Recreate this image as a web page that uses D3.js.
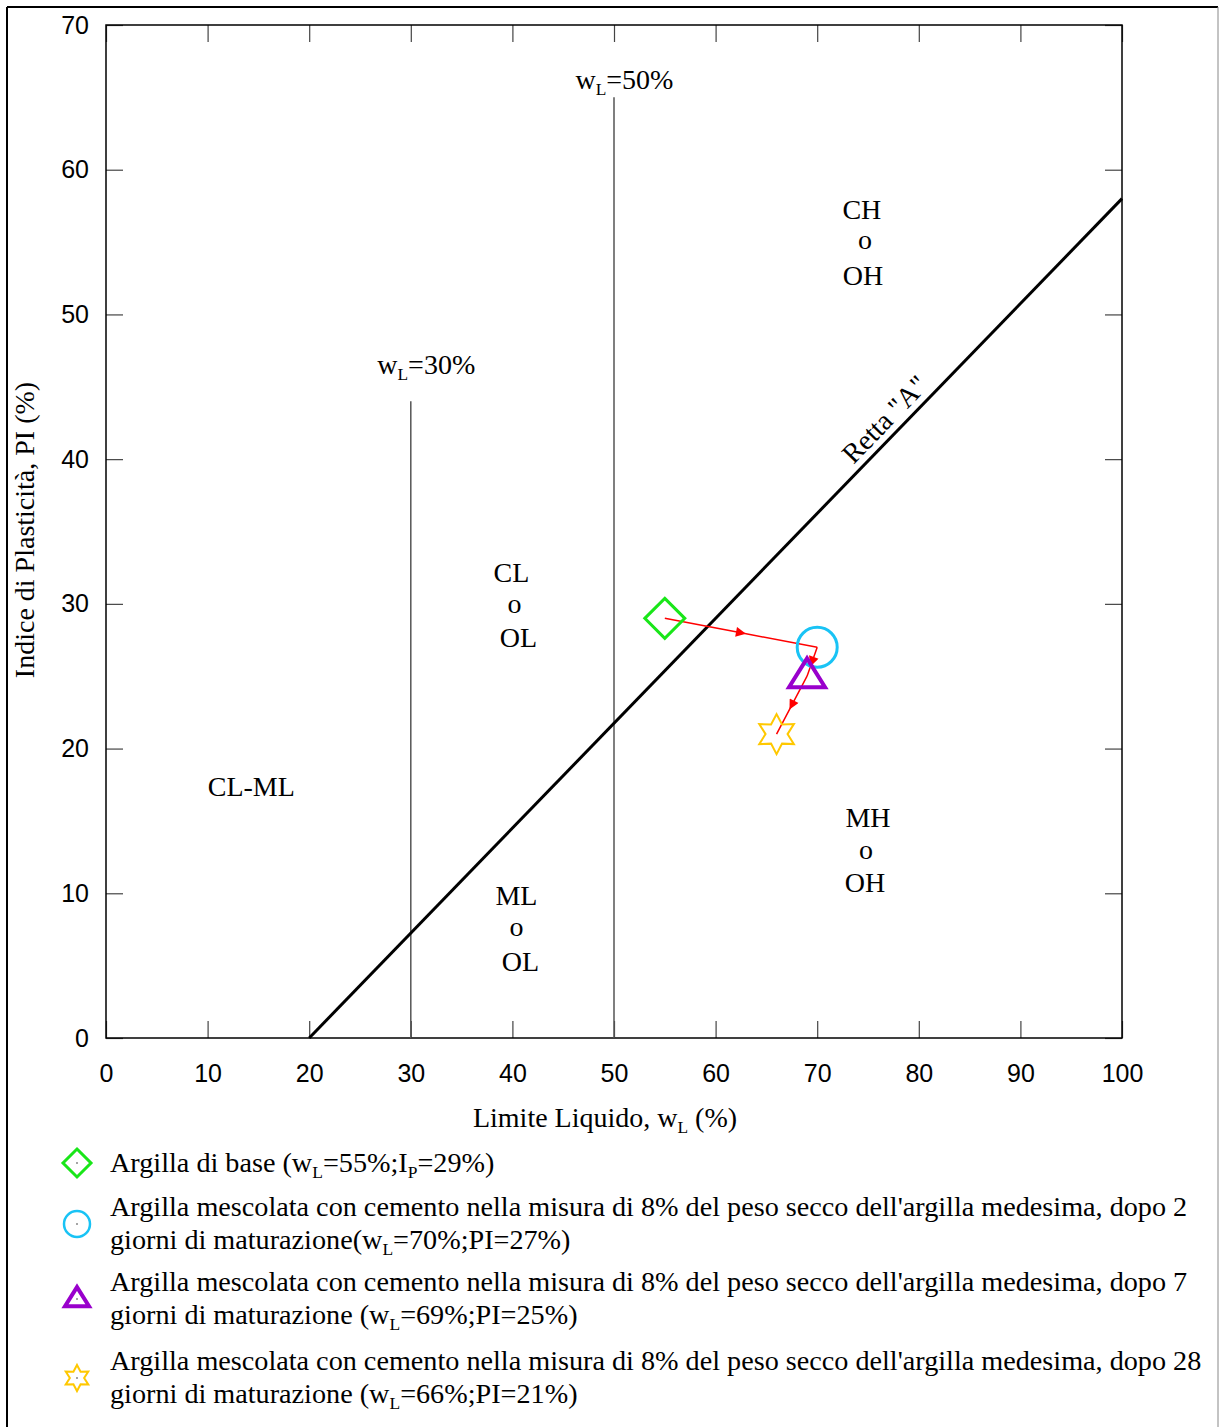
<!DOCTYPE html>
<html>
<head>
<meta charset="utf-8">
<script src="https://cdn.jsdelivr.net/npm/d3@7"></script>
<style>
  body { margin: 0; background: #fff; }
  .serif { font-family: "Liberation Serif", "Times New Roman", serif; fill: #000; }
  .tick text { font-family: "Liberation Sans", Arial, sans-serif; font-size: 25px; fill: #000; }
</style>
</head>
<body>
<div id="chart"></div>
<script>
// Casagrande plasticity chart data
const sampleNames = ["base", "2 giorni", "7 giorni", "28 giorni"];
const liquidLimit = [55, 70, 69, 66];
const plasticityIdx = [29, 27, 25, 21];
const markerColors = ["#19e619", "#19c3f5", "#9900cc", "#ffc800"];
const markerShapes = ["diamond", "circle", "triangle", "star"];
const legendLines = [
  ["Argilla di base (w_L=55%;I_P=29%)"],
  ["Argilla mescolata con cemento nella misura di 8% del peso secco dell'argilla medesima, dopo 2", "giorni di maturazione(w_L=70%;PI=27%)"],
  ["Argilla mescolata con cemento nella misura di 8% del peso secco dell'argilla medesima, dopo 7", "giorni di maturazione (w_L=69%;PI=25%)"],
  ["Argilla mescolata con cemento nella misura di 8% del peso secco dell'argilla medesima, dopo 28", "giorni di maturazione (w_L=66%;PI=21%)"]
];
const xTicks = [0, 10, 20, 30, 40, 50, 60, 70, 80, 90, 100];
const yTicks = [0, 10, 20, 30, 40, 50, 60, 70];
// A-line as drawn in the picture
const aLine = [[20, 0], [100, 58]];
const limitLines = [
  { wl: 30, top: 44, label: "w_L=30%", lx: 26.7, ly: 45.9 },
  { wl: 50, top: 65, label: "w_L=50%", lx: 46.2, ly: 65.6 }
];
const zones = [
  { lines: ["CH", "o", "OH"], x: [74.4, 74.7, 74.5], y: [56.6, 54.5, 52.0] },
  { lines: ["CL", "o", "OL"], x: [39.9, 40.2, 40.6], y: [31.5, 29.4, 27.0] },
  { lines: ["CL-ML"], x: [14.3], y: [16.7] },
  { lines: ["ML", "o", "OL"], x: [40.4, 40.4, 40.8], y: [9.2, 7.05, 4.6] },
  { lines: ["MH", "o", "OH"], x: [75.0, 74.8, 74.7], y: [14.6, 12.4, 10.1] }
];

const W = 1219, H = 1427;
const x = d3.scaleLinear().domain([0, 100]).range([106, 1122]);
const y = d3.scaleLinear().domain([0, 70]).range([1038, 25]);

const svg = d3.select("#chart").append("svg").attr("width", W).attr("height", H);

// outer frame
svg.append("line").attr("x1", 7).attr("x2", 7).attr("y1", 7).attr("y2", H).attr("stroke", "#000").attr("stroke-width", 2);
svg.append("line").attr("x1", 7).attr("x2", 1218).attr("y1", 7).attr("y2", 7).attr("stroke", "#000").attr("stroke-width", 2);
svg.append("line").attr("x1", 1218).attr("x2", 1218).attr("y1", 7).attr("y2", H).attr("stroke", "#888").attr("stroke-width", 1);

// write text with "_X" subscripts
function richText(sel, str, fs) {
  const parts = str.split(/_(.)/);
  parts.forEach((p, i) => {
    if (!p) return;
    if (i % 2 === 1) {
      sel.append("tspan").attr("font-size", fs * 0.62).attr("dy", fs * 0.22).text(p);
    } else {
      const t = sel.append("tspan").text(p);
      if (i > 0) t.attr("dy", -fs * 0.22);
    }
  });
}

// axes (inward ticks)
const tickLen = 17;
const gx = svg.append("g").attr("transform", `translate(0,${y(0)})`)
  .call(d3.axisBottom(x).tickValues(xTicks).tickSize(-tickLen).tickPadding(26).tickFormat(d3.format("d")));
const gxt = svg.append("g").attr("transform", `translate(0,${y(70)})`)
  .call(d3.axisTop(x).tickValues(xTicks).tickSize(-tickLen).tickFormat(""));
const gy = svg.append("g").attr("transform", `translate(${x(0)},0)`)
  .call(d3.axisLeft(y).tickValues(yTicks).tickSize(-tickLen).tickPadding(17).tickFormat(d3.format("d")));
const gyr = svg.append("g").attr("transform", `translate(${x(100)},0)`)
  .call(d3.axisRight(y).tickValues(yTicks).tickSize(-tickLen).tickFormat(""));
[gx, gxt, gy, gyr].forEach(g => {
  g.select(".domain").remove();
  g.selectAll(".tick line").attr("stroke", "#444").attr("stroke-width", 1.2);
});

// plot frame
svg.append("rect").attr("x", x(0)).attr("y", y(70)).attr("width", x(100) - x(0)).attr("height", y(0) - y(70))
  .attr("fill", "none").attr("stroke", "#000").attr("stroke-width", 1.5);

// wL limit lines
limitLines.forEach(d => {
  svg.append("line").attr("x1", x(d.wl)).attr("x2", x(d.wl)).attr("y1", y(0)).attr("y2", y(d.top))
    .attr("stroke", "#555").attr("stroke-width", 1.5);
  const t = svg.append("text").attr("class", "serif").attr("font-size", 28)
    .attr("x", x(d.lx)).attr("y", y(d.ly));
  richText(t, d.label, 28);
});

// A-line
svg.append("path").datum(aLine)
  .attr("d", d3.line().x(d => x(d[0])).y(d => y(d[1])))
  .attr("stroke", "#000").attr("stroke-width", 3).attr("fill", "none");
const ang = Math.atan2(y(aLine[1][1]) - y(aLine[0][1]), x(aLine[1][0]) - x(aLine[0][0])) * 180 / Math.PI;
svg.append("text").attr("class", "serif").attr("font-size", 28).attr("text-anchor", "middle")
  .attr("transform", `translate(${x(77.3)},${y(42.3)}) rotate(${ang})`)
  .text('Retta "A"');

// zone labels
zones.forEach(z => {
  z.lines.forEach((l, i) => {
    svg.append("text").attr("class", "serif").attr("font-size", 28).attr("text-anchor", "middle")
      .attr("x", x(z.x[i])).attr("y", y(z.y[i])).text(l);
  });
});

// axis titles
const xt = svg.append("text").attr("class", "serif").attr("font-size", 28).attr("text-anchor", "middle")
  .attr("x", 605).attr("y", 1127);
richText(xt, "Limite Liquido, w_L (%)", 28);
svg.append("text").attr("class", "serif").attr("font-size", 28).attr("text-anchor", "middle")
  .attr("transform", `translate(34,530) rotate(-90)`)
  .text("Indice di Plasticità, PI (%)");

// marker shapes
function starPath(r) {
  const pts = d3.range(12).map(i => {
    const a = i * Math.PI / 6 - Math.PI / 2;
    const rr = i % 2 === 0 ? r : r * 0.55;
    return [rr * Math.cos(a), rr * Math.sin(a)];
  });
  return "M" + pts.join("L") + "Z";
}
function markerPath(shape, s) {
  if (shape === "diamond") return `M0,${-s}L${s},0L0,${s}L${-s},0Z`;
  if (shape === "circle") return d3.symbol(d3.symbolCircle, Math.PI * s * s)();
  if (shape === "triangle") {
    const h = s * 1.6;
    return `M0,${-h * 0.62}L${s},${h * 0.38}L${-s},${h * 0.38}Z`;
  }
  return starPath(s);
}
const plotSize = [20, 20, 18, 20];
const plotStroke = [3, 3, 4, 2];
const legSize = [14, 13, 12, 13];
const legStroke = [3, 2.5, 4, 2];

// red arrows between consecutive states
svg.append("defs").append("marker").attr("id", "arr").attr("viewBox", "0 0 10 10")
  .attr("refX", 5).attr("refY", 5).attr("markerWidth", 13).attr("markerHeight", 10)
  .attr("markerUnits", "userSpaceOnUse").attr("orient", "auto")
  .append("path").attr("d", "M0,0L10,5L0,10Z").attr("fill", "#ff0000");
for (let i = 0; i < liquidLimit.length - 1; i++) {
  const x0 = x(liquidLimit[i]), y0 = y(plasticityIdx[i]);
  const x1 = x(liquidLimit[i + 1]), y1 = y(plasticityIdx[i + 1]);
  svg.append("path")
    .attr("d", `M${x0},${y0}L${(x0 + x1) / 2},${(y0 + y1) / 2}L${x1},${y1}`)
    .attr("stroke", "#ff0000").attr("stroke-width", 1.5).attr("fill", "none")
    .attr("marker-mid", "url(#arr)");
}

// data markers
svg.selectAll(".pt").data(sampleNames).enter().append("path")
  .attr("class", "pt")
  .attr("transform", (d, i) => `translate(${x(liquidLimit[i])},${y(plasticityIdx[i])})`)
  .attr("d", (d, i) => markerPath(markerShapes[i], plotSize[i]))
  .attr("fill", "none")
  .attr("stroke", (d, i) => markerColors[i])
  .attr("stroke-width", (d, i) => plotStroke[i]);

// legend
const legTop = [1163, 1224, 1299, 1378];
const legend = svg.append("g");
sampleNames.forEach((name, i) => {
  const g = legend.append("g").attr("transform", `translate(77,${legTop[i]})`);
  g.append("path").attr("d", markerPath(markerShapes[i], legSize[i]))
    .attr("fill", "none").attr("stroke", markerColors[i]).attr("stroke-width", legStroke[i]);
  g.append("circle").attr("r", 0.8).attr("fill", "#333");
  const lines = legendLines[i];
  const firstBase = lines.length === 1 ? 9 : -8;
  lines.forEach((l, j) => {
    const t = svg.append("text").attr("class", "serif").attr("font-size", 28.2)
      .attr("x", 110).attr("y", legTop[i] + firstBase + j * 33);
    richText(t, l, 28.2);
  });
});
</script>
</body>
</html>
